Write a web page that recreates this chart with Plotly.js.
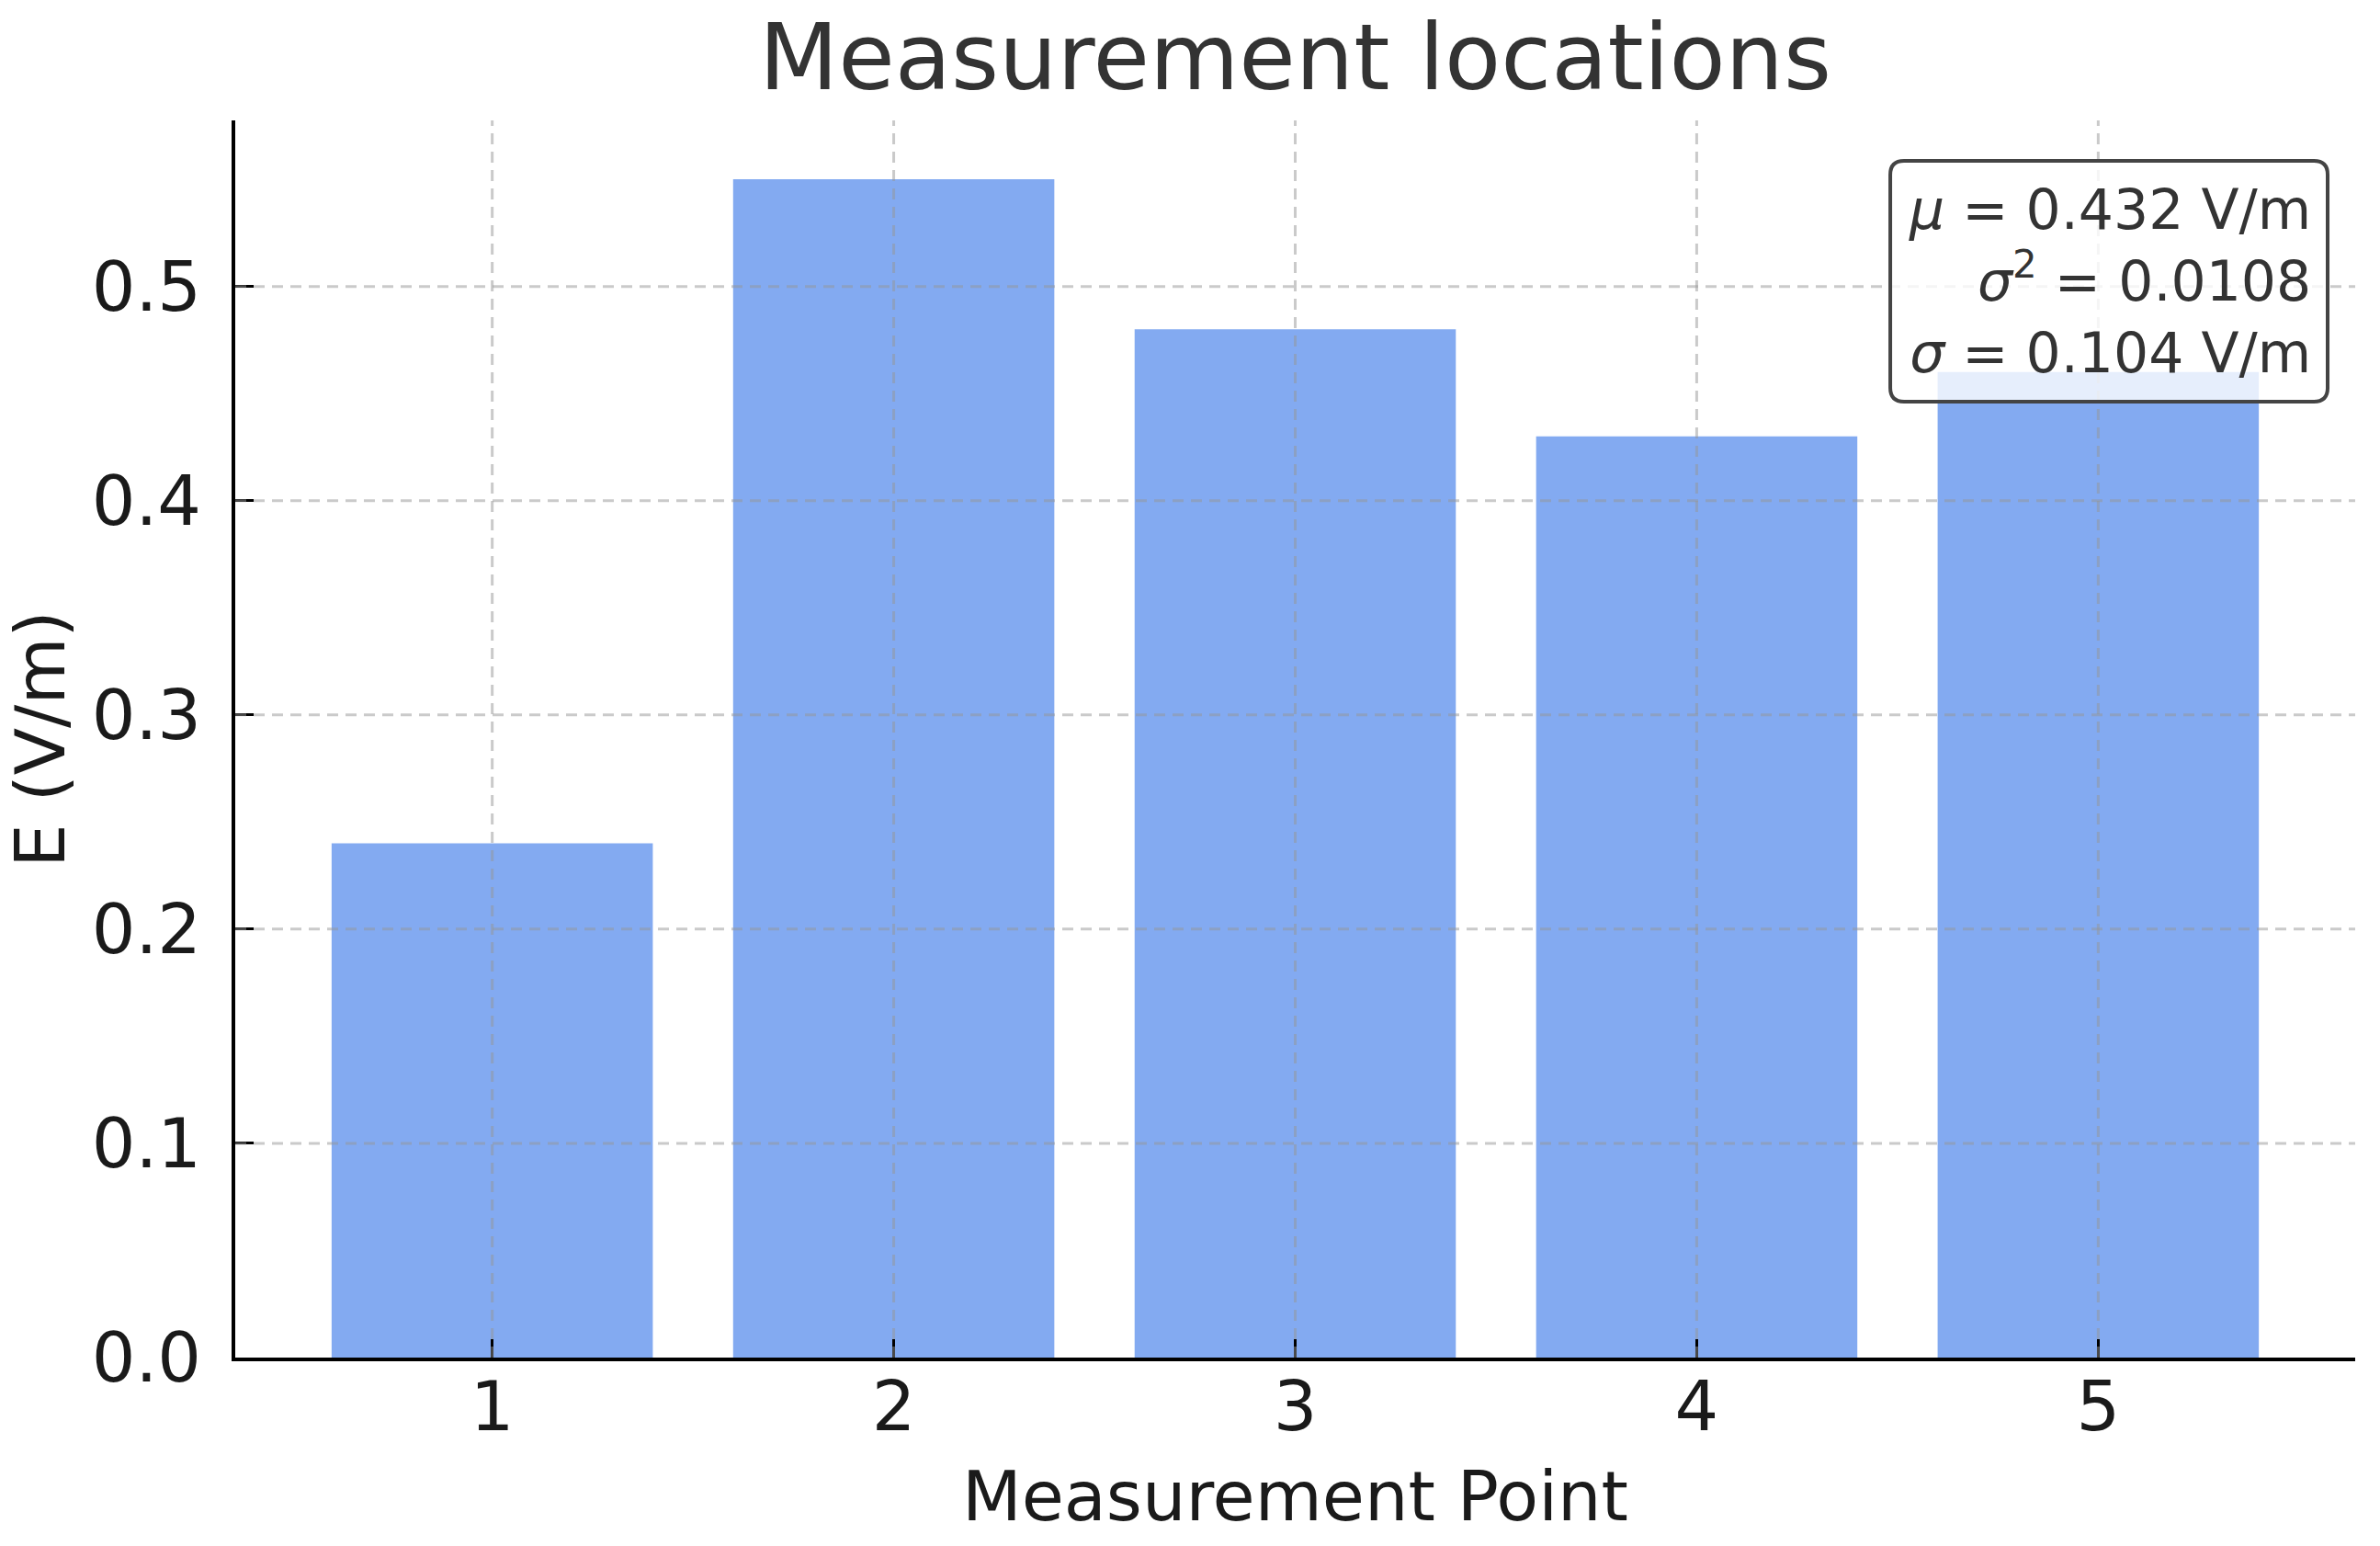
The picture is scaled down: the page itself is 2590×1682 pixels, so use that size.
<!DOCTYPE html>
<html>
<head>
<meta charset="utf-8">
<script src="https://cdn.plot.ly/plotly-3.0.1.min.js"></script>
<style>
  html, body { margin: 0; padding: 0; background: #fff; }
  #plot { width: 2590px; height: 1682px; }
</style>
</head>
<body>
<div id="plot"></div>
<script>
"use strict";

// Field strength per measurement point
const points = [1, 2, 3, 4, 5];
const fieldVm = [0.24, 0.55, 0.48, 0.43, 0.46];
const yTicks = [0.0, 0.1, 0.2, 0.3, 0.4, 0.5];
const yTickText = ["0.0", "0.1", "0.2", "0.3", "0.4", "0.5"];
const statsLines = ["<i>μ</i> = 0.432 V/m", "<i>σ</i><sup>2</sup> = 0.0108", "<i>σ</i> = 0.104 V/m"];

const FONT = "DejaVu Sans, Verdana, sans-serif";
const gridLine = { color: "rgba(150,150,150,0.5)", width: 3, dash: "12px,8px" };

// matplotlib draws the grid over the bars, so grid lines go in as shapes
const shapes = [];
points.forEach(p => shapes.push({
    type: "line", layer: "above", xref: "x", yref: "paper",
    x0: p, x1: p, y0: 0, y1: 1, line: gridLine,
}));
yTicks.slice(1).forEach(v => shapes.push({
    type: "line", layer: "above", xref: "paper", yref: "y",
    x0: 0, x1: 1, y0: v, y1: v, line: gridLine,
}));

// rounded stats box (paper coords)
function roundedBox(x0, y0, x1, y1, rx, ry) {
    return `M ${x0 + rx},${y0} L ${x1 - rx},${y0} Q ${x1},${y0} ${x1},${y0 + ry} ` +
           `L ${x1},${y1 - ry} Q ${x1},${y1} ${x1 - rx},${y1} ` +
           `L ${x0 + rx},${y1} Q ${x0},${y1} ${x0},${y1 - ry} ` +
           `L ${x0},${y0 + ry} Q ${x0},${y0} ${x0 + rx},${y0} Z`;
}
shapes.push({
    type: "path", layer: "above", xref: "paper", yref: "paper",
    path: roundedBox(0.7807, 0.7727, 0.9870, 0.9673, 0.0065, 0.0111),
    fillcolor: "rgba(255,255,255,0.8)",
    line: { color: "#444444", width: 4 },
});

const traces = [{
    x: points, y: fieldVm, type: "bar", width: 0.8,
    marker: { color: "rgba(100,149,237,0.8)", line: { width: 0 } },
    hoverinfo: "x+y",
}];

const axisCommon = {
    showline: true, linecolor: "#000", linewidth: 4, mirror: false,
    ticks: "inside", ticklen: 20, tickwidth: 3, tickcolor: "#000",
    showgrid: false, zeroline: false, layer: "above traces",
    tickfont: { family: FONT, size: 75, color: "#1a1a1a" },
};

const layout = {
    width: 2590, height: 1682,
    paper_bgcolor: "#fff", plot_bgcolor: "#fff",
    margin: { l: 256, r: 27, t: 131, b: 205 },
    showlegend: false,
    font: { family: FONT, color: "#1a1a1a" },
    title: {
        text: "Measurement locations",
        x: 0.5, xref: "paper", xanchor: "center",
        y: 1 - 62 / 1682, yref: "container", yanchor: "middle",
        font: { family: FONT, size: 100, color: "#333333" },
    },
    xaxis: Object.assign({}, axisCommon, {
        range: [0.36, 5.64], tickmode: "array", tickvals: points,
        ticktext: points.map(String), ticklabelstandoff: -15,
        title: { text: "Measurement Point", standoff: 29,
                 font: { family: FONT, size: 75, color: "#1a1a1a" } },
    }),
    yaxis: Object.assign({}, axisCommon, {
        range: [0, 0.5775], tickmode: "array", tickvals: yTicks,
        ticktext: yTickText, ticklabelstandoff: 18,
        title: { text: "E (V/m)", standoff: 30,
                 font: { family: FONT, size: 75, color: "#1a1a1a" } },
    }),
    shapes: shapes,
    annotations: [{
        text: statsLines.join("<br>"),
        xref: "paper", yref: "paper", x: 0.980, y: 0.870,
        xanchor: "right", yanchor: "middle", align: "right",
        showarrow: false,
        font: { family: FONT, size: 60, color: "#333333" },
    }],
};

Plotly.newPlot("plot", traces, layout, { displayModeBar: false, responsive: false });
</script>
</body>
</html>
